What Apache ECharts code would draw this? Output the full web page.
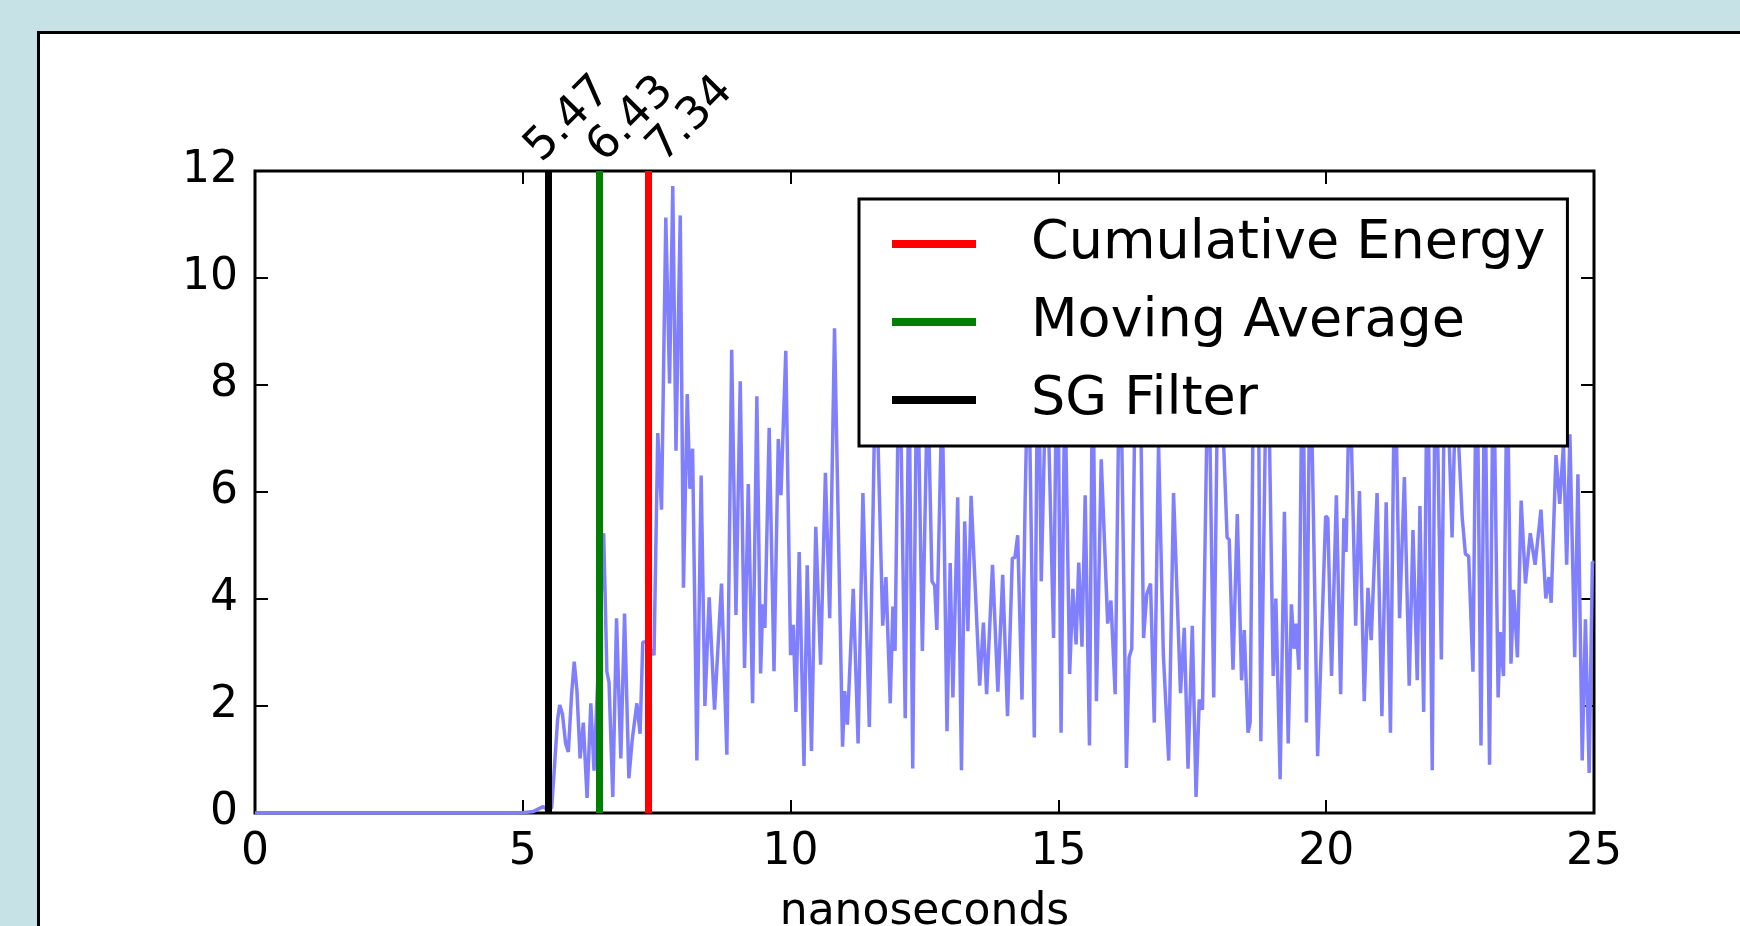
<!DOCTYPE html>
<html>
<head>
<meta charset="utf-8">
<script src="https://cdn.jsdelivr.net/npm/echarts@6/dist/echarts.min.js"></script>
<style>
  html, body { margin: 0; padding: 0; background: #c6e2e6; }
  #chart { width: 1740px; height: 926px; }
</style>
</head>
<body>
<div id="chart"></div>
<script>
// signal samples (ns, amplitude)
const times = [
  0, 4.95, 5.2, 5.38, 5.47, 5.54, 5.60, 5.65, 5.69, 5.74, 5.80, 5.85, 5.91, 5.96, 6.01, 6.07,
  6.13, 6.20, 6.27, 6.33, 6.51, 6.57, 6.61, 6.68, 6.75, 6.83, 6.90, 6.98, 7.04, 7.13, 7.19, 7.24,
  7.30, 7.45, 7.52, 7.59, 7.67, 7.74, 7.80, 7.86, 7.94, 8.00, 8.07, 8.12, 8.17, 8.25, 8.33, 8.40,
  8.48, 8.58, 8.71, 8.81, 8.90, 8.98, 9.06, 9.14, 9.21, 9.29, 9.37, 9.44, 9.48, 9.52, 9.60, 9.69,
  9.77, 9.82, 9.91, 10.00, 10.05, 10.10, 10.16, 10.25, 10.31, 10.39, 10.47, 10.56, 10.65, 10.73, 10.82, 10.97,
  11.01, 11.06, 11.17, 11.26, 11.35, 11.47, 11.59, 11.72, 11.78, 11.86, 11.91, 11.95, 12.03, 12.14, 12.21, 12.28,
  12.36, 12.46, 12.56, 12.64, 12.69, 12.73, 12.83, 12.92, 12.98, 13.03, 13.12, 13.19, 13.25, 13.31, 13.37, 13.53,
  13.60, 13.66, 13.77, 13.87, 13.96, 14.05, 14.14, 14.19, 14.24, 14.32, 14.38, 14.44, 14.55, 14.62, 14.68, 14.78,
  14.91, 14.98, 15.05, 15.12, 15.21, 15.27, 15.33, 15.38, 15.44, 15.50, 15.58, 15.64, 15.71, 15.80, 15.92, 15.98,
  16.06, 16.15, 16.27, 16.32, 16.37, 16.44, 16.48, 16.52, 16.59, 16.65, 16.72, 16.79, 16.87, 16.96, 17.06, 17.15,
  17.28, 17.35, 17.42, 17.50, 17.57, 17.63, 17.69, 17.80, 17.90, 17.99, 18.07, 18.15, 18.19, 18.26, 18.34, 18.42,
  18.47, 18.54, 18.58, 18.65, 18.70, 18.73, 18.78, 18.90, 19.01, 19.06, 19.14, 19.22, 19.29, 19.35, 19.40, 19.44,
  19.49, 19.56, 19.63, 19.70, 19.84, 19.99, 20.03, 20.10, 20.19, 20.27, 20.33, 20.37, 20.44, 20.55, 20.62, 20.71,
  20.78, 20.84, 20.95, 21.04, 21.12, 21.20, 21.28, 21.37, 21.46, 21.55, 21.62, 21.70, 21.75, 21.82, 21.89, 21.98,
  22.04, 22.15, 22.22, 22.28, 22.35, 22.42, 22.54, 22.60, 22.66, 22.74, 22.81, 22.89, 22.96, 23.05, 23.12, 23.21,
  23.25, 23.31, 23.38, 23.45, 23.50, 23.57, 23.64, 23.72, 23.81, 23.90, 24.01, 24.10, 24.16, 24.20, 24.29, 24.36,
  24.43, 24.49, 24.55, 24.64, 24.70, 24.78, 24.84, 24.91, 24.97, 25.00
];
const amplitudes = [
  0, 0, 0.03, 0.12, 0.05, 0.10, 1.00, 1.75, 2.02, 1.85, 1.30, 1.14, 2.20, 2.83, 2.30, 1.02,
  1.69, 0.28, 2.05, 0.79, 5.23, 2.64, 2.44, 0.30, 3.64, 1.02, 3.73, 0.65, 1.34, 2.05, 1.48, 3.19,
  3.20, 2.95, 7.10, 5.67, 11.13, 8.03, 11.72, 6.77, 11.17, 4.21, 7.83, 6.06, 6.81, 0.98, 6.31, 2.00,
  4.03, 1.93, 4.29, 1.09, 8.66, 3.70, 8.07, 2.71, 6.15, 2.05, 7.79, 2.61, 3.90, 3.46, 7.20, 2.65,
  6.99, 5.94, 8.64, 2.95, 3.52, 1.89, 4.88, 0.88, 4.63, 1.16, 5.35, 2.77, 6.36, 3.64, 9.06, 1.24,
  2.28, 1.65, 4.19, 1.30, 5.98, 1.61, 8.60, 3.50, 4.41, 2.05, 3.86, 3.03, 9.20, 1.77, 8.40, 0.83,
  9.00, 3.03, 8.10, 4.33, 4.25, 3.42, 7.90, 1.53, 4.67, 2.16, 5.90, 0.80, 5.45, 3.40, 5.93, 2.38,
  3.56, 2.22, 4.64, 2.27, 4.45, 1.81, 4.76, 4.78, 5.19, 2.12, 5.90, 8.80, 1.41, 9.50, 4.33, 8.70,
  3.27, 9.80, 1.50, 8.20, 2.60, 4.19, 3.15, 4.68, 3.11, 5.94, 1.26, 8.90, 2.09, 6.61, 3.54, 3.97,
  2.22, 9.30, 0.84, 2.91, 3.07, 8.50, 7.20, 8.90, 3.27, 4.09, 4.29, 1.69, 6.90, 2.95, 0.98, 5.98,
  2.24, 3.46, 0.83, 3.50, 0.30, 2.12, 1.93, 9.00, 2.16, 9.40, 7.30, 5.15, 5.11, 2.68, 5.59, 2.48,
  3.42, 1.50, 1.69, 9.00, 7.40, 8.80, 1.34, 9.60, 2.56, 4.01, 0.63, 5.63, 1.30, 3.90, 3.07, 3.54,
  2.68, 9.40, 1.69, 9.00, 1.06, 5.55, 5.51, 2.56, 5.94, 2.22, 5.51, 4.88, 8.30, 3.50, 6.02, 2.09,
  4.21, 3.23, 5.98, 1.81, 5.81, 1.50, 8.80, 3.64, 6.28, 2.38, 5.29, 2.48, 5.74, 1.89, 9.10, 0.80,
  9.50, 2.87, 9.20, 7.50, 5.15, 8.00, 5.51, 4.84, 4.80, 2.64, 9.30, 1.26, 8.70, 0.90, 9.00, 2.16,
  3.38, 2.56, 8.60, 2.79, 4.17, 2.91, 5.84, 4.29, 5.23, 4.64, 5.67, 4.01, 4.41, 3.93, 6.69, 5.78,
  6.90, 4.64, 7.08, 2.91, 6.33, 0.98, 3.62, 0.75, 4.68, 4.70
];

// onset picks
const markerNames = ['Cumulative Energy', 'Moving Average', 'SG Filter'];
const markerTimes = [7.34, 6.43, 5.47];
const markerColors = ['#ff0000', '#008000', '#000000'];

const xTickValues = [0, 5, 10, 15, 20, 25];
const yTickValues = [0, 2, 4, 6, 8, 10, 12];

const FONT = 'DejaVu Sans';

const chart = echarts.init(document.getElementById('chart'));

const tickStyle = { inside: true, length: 13, lineStyle: { color: '#000', width: 2 } };

const xBase = {
  type: 'value',
  min: xTickValues[0],
  max: xTickValues[xTickValues.length - 1],
  interval: xTickValues[1] - xTickValues[0],
  splitLine: { show: false },
  axisLine: { show: false, onZero: false },
  axisTick: tickStyle
};
const yBase = {
  type: 'value',
  min: yTickValues[0],
  max: yTickValues[yTickValues.length - 1],
  interval: yTickValues[1] - yTickValues[0],
  splitLine: { show: false },
  axisLine: { show: false, onZero: false },
  axisTick: tickStyle
};

const panel = {
  id: 'panel',
  type: 'rect',
  z: -10,
  shape: { x: 38.5, y: 32.5, width: 1800, height: 1000 },
  style: { fill: '#ffffff', stroke: '#000000', lineWidth: 3 }
};

const option = {
  backgroundColor: '#c6e2e6',
  animation: false,
  graphic: [panel],
  grid: {
    left: 255, right: 146, top: 171, bottom: 113,
    outerBoundsMode: 'none',
    containLabel: false,
    show: true, borderColor: '#000', borderWidth: 3, backgroundColor: '#fff'
  },
  xAxis: [
    Object.assign({}, xBase, {
      position: 'bottom',
      name: 'nanoseconds',
      nameLocation: 'middle',
      nameGap: 78,
      nameTextStyle: { fontFamily: FONT, fontSize: 44, color: '#000' },
      axisLabel: { fontFamily: FONT, fontSize: 44, color: '#000', margin: 18 }
    }),
    Object.assign({}, xBase, { position: 'top', axisLabel: { show: false } })
  ],
  yAxis: [
    Object.assign({}, yBase, {
      position: 'left',
      axisLabel: { fontFamily: FONT, fontSize: 44, color: '#000', margin: 17 }
    }),
    Object.assign({}, yBase, { position: 'right', axisLabel: { show: false } })
  ],
  legend: {
    data: markerNames,
    orient: 'vertical',
    left: 859,
    top: 199,
    padding: [18, 22, 19, 33],
    itemGap: 24,
    itemWidth: 84,
    itemHeight: 8,
    icon: 'rect',
    selectedMode: false,
    backgroundColor: '#fff',
    borderColor: '#000',
    borderWidth: 3,
    borderRadius: 0,
    textStyle: {
      fontFamily: FONT, fontSize: 54, color: '#000', lineHeight: 54,
      padding: [0, 0, 0, 50]
    }
  },
  series: [
    {
      name: 'signal',
      type: 'line',
      data: times.map((t, i) => [t, amplitudes[i]]),
      showSymbol: false,
      symbol: 'none',
      silent: true,
      lineStyle: { color: '#8080ff', width: 3.5 },
      z: 2
    }
  ].concat(markerNames.map((name, i) => ({
    name: name,
    type: 'line',
    data: [],
    color: markerColors[i],
    itemStyle: { color: markerColors[i] },
    lineStyle: { color: markerColors[i] },
    z: 3,
    markLine: {
      silent: true,
      symbol: 'none',
      label: { show: false },
      lineStyle: { color: markerColors[i], width: 7, type: 'solid' },
      data: [{ xAxis: markerTimes[i] }]
    }
  })))
};

chart.setOption(option);

// rotated value labels above the onset lines (they fan out a little to the right)
const yTop = yTickValues[yTickValues.length - 1];
const firstPx = chart.convertToPixel({ xAxisIndex: 0, yAxisIndex: 0 }, [Math.min.apply(null, markerTimes), yTop])[0];
const labels = markerTimes.map((t, i) => {
  const p = chart.convertToPixel({ xAxisIndex: 0, yAxisIndex: 0 }, [t, yTop]);
  return {
    id: 'lbl' + i,
    type: 'text',
    x: p[0] + 1 + 0.22 * (p[0] - firstPx),
    y: p[1],
    rotation: Math.PI / 4,
    style: {
      text: t.toFixed(2),
      fill: '#000',
      fontFamily: FONT,
      fontSize: 45,
      align: 'left',
      verticalAlign: 'bottom'
    }
  };
});
chart.setOption({ graphic: [panel].concat(labels) });
</script>
</body>
</html>
